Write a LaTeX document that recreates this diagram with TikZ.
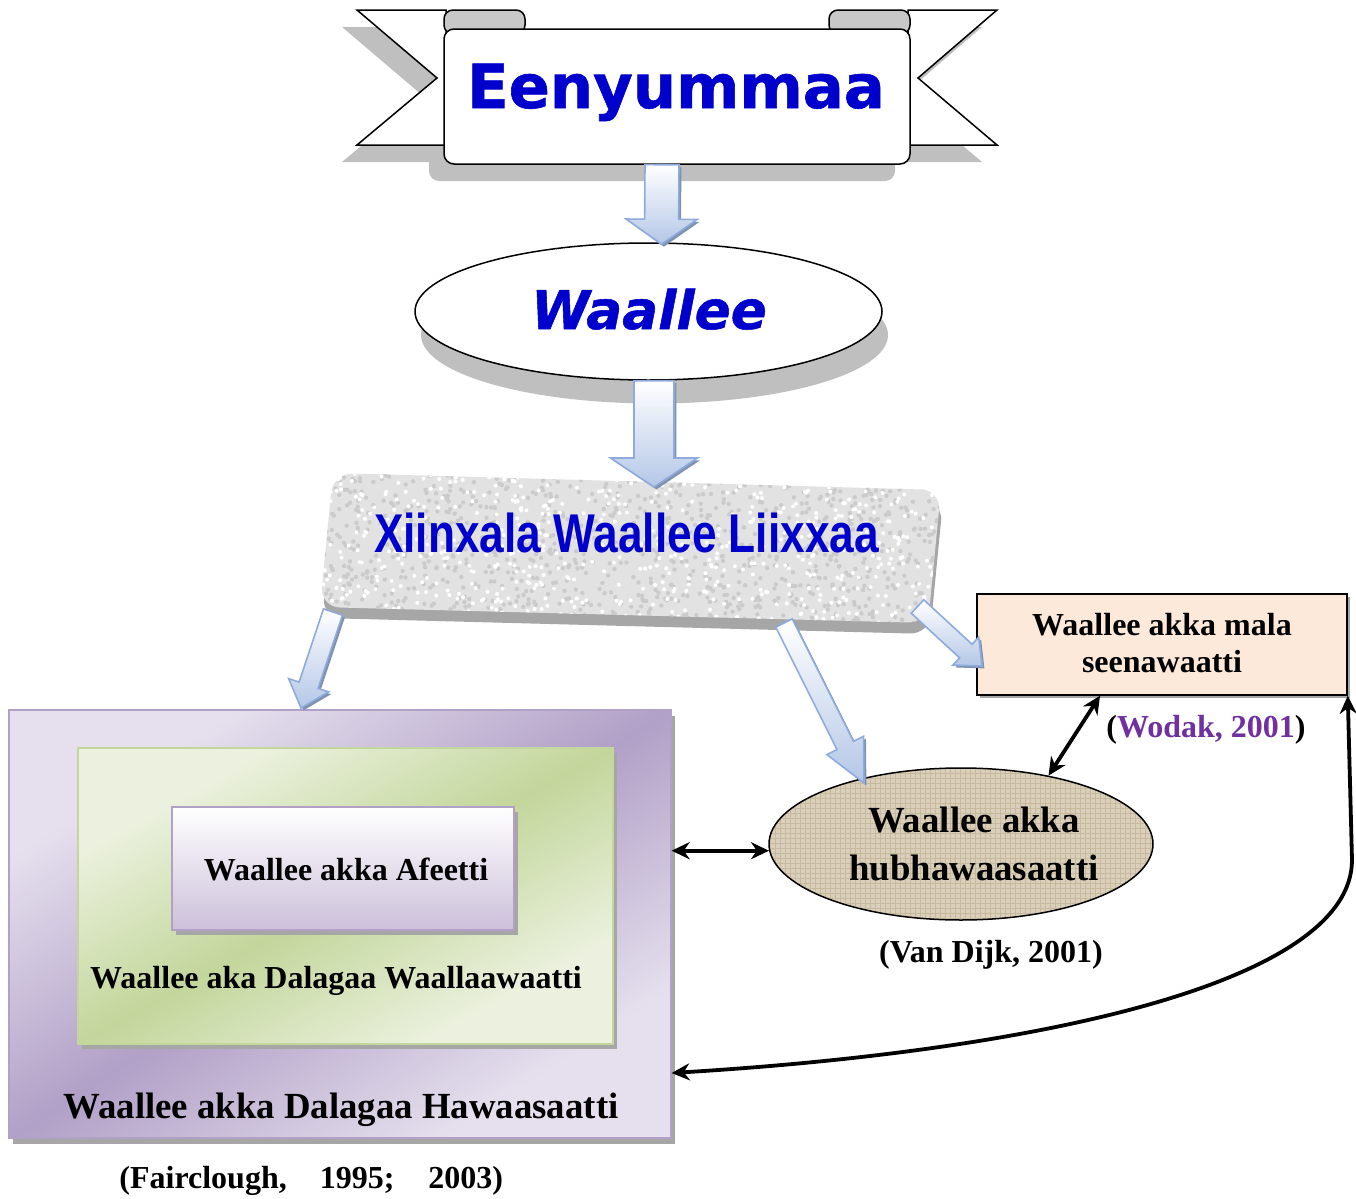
\documentclass[tikz,border=0pt]{standalone}
\usepackage{fontspec}
\setmainfont{Liberation Serif}
\newfontfamily\tnr{Liberation Serif}
\newfontfamily\dejab[FakeBold=1]{DejaVu Sans}
\newfontfamily\narrowf[FakeStretch=0.81]{Liberation Sans}
\usetikzlibrary{calc,shapes.geometric,arrows.meta}
\definecolor{tblue}{RGB}{0,0,204}
\definecolor{arrblue}{HTML}{B4C7E7}
\definecolor{arrborder}{HTML}{8FAADC}
\definecolor{arrshadow}{HTML}{7F93B0}
\definecolor{shadowgray}{HTML}{BFBFBF}
\definecolor{curlgray}{HTML}{C8C8C8}
\definecolor{texbase}{HTML}{E2E2E2}
\definecolor{texdark}{HTML}{CBCBCB}
\definecolor{texshadow}{HTML}{A6A6A6}
\definecolor{pinkbox}{HTML}{FDE9D9}
\definecolor{purpL}{HTML}{E6E0EE}
\definecolor{purpD}{HTML}{B1A0C7}
\definecolor{purpB}{HTML}{B2A1C7}
\definecolor{greenL}{HTML}{EBF1DE}
\definecolor{greenD}{HTML}{C3D69B}
\definecolor{innerB}{HTML}{CCC0DA}
\definecolor{burlap}{HTML}{DACFBA}
\definecolor{burlapline}{HTML}{C7B99E}
\definecolor{wodak}{HTML}{7030A0}
\definecolor{boxshadow}{HTML}{A6A6A6}
\pgfdeclarehorizontalshading{purplerefl}{100bp}{color(0bp)=(purpL); color(27bp)=(purpL); color(50bp)=(purpD); color(73bp)=(purpL); color(100bp)=(purpL)}
\pgfdeclarehorizontalshading{greenrefl}{100bp}{color(0bp)=(greenL); color(28bp)=(greenL); color(50bp)=(greenD); color(72bp)=(greenL); color(100bp)=(greenL)}
\tikzset{
  bline/.style={draw=black, line width=0.75pt},
  blockarr/.style={draw=arrborder, line width=0.8pt, top color=white, bottom color=arrblue},
  conn/.style={line width=1.9pt, {Stealth[length=9pt,width=8.5pt]}-{Stealth[length=9pt,width=8.5pt]}},
  txt/.style={font=\tnr\bfseries\fontsize{16}{19}\selectfont, inner sep=0pt},
  bigtxt/.style={font=\tnr\bfseries\fontsize{18.4}{22}\selectfont, inner sep=0pt},
}
\newcommand\myblockarrow[5]{%
  \coordinate (ba-h) at ($(#2)!#5!(#1)$);
  \coordinate (ba-1) at ($(#1)!#3!90:(#2)$);
  \coordinate (ba-2) at ($(ba-h)!#3!90:(#2)$);
  \coordinate (ba-3) at ($(ba-h)!#4!90:(#2)$);
  \coordinate (ba-4) at ($(ba-h)!#4!-90:(#2)$);
  \coordinate (ba-5) at ($(ba-h)!#3!-90:(#2)$);
  \coordinate (ba-6) at ($(#1)!#3!-90:(#2)$);
  \begin{scope}[transform canvas={shift={(1.2pt,-1.2pt)}}]
    \fill[arrshadow] (ba-1) -- (ba-2) -- (ba-3) -- (#2) -- (ba-4) -- (ba-5) -- (ba-6) -- cycle;
  \end{scope}
  \path[blockarr] (ba-1) -- (ba-2) -- (ba-3) -- (#2) -- (ba-4) -- (ba-5) -- (ba-6) -- cycle;
}
\begin{document}
\begin{tikzpicture}[x=0.5pt,y=-0.5pt]
\useasboundingbox (0,0) rectangle (1356,1199);
\fill[white] (0,0) rectangle (1356,1199);

% ---------- banner ----------
\begin{scope}[shift={(-15,17)}]
  \fill[shadowgray] (357,10) -- (446,10) -- (446,145) -- (357,145) -- (437,78) -- cycle;
  \fill[shadowgray] (997,10) -- (908,10) -- (908,145) -- (997,145) -- (918,78) -- cycle;
  \fill[shadowgray, rounded corners=5pt] (444,29) rectangle (910,164);
\end{scope}
\draw[bline, fill=white] (357,10) -- (446,10) -- (446,145) -- (357,145) -- (437,78) -- cycle;
\draw[bline, fill=white] (997,10) -- (908,10) -- (908,145) -- (997,145) -- (918,78) -- cycle;
\draw[bline, fill=curlgray, rounded corners=4.5pt] (444,10) rectangle (525,34);
\draw[bline, fill=curlgray, rounded corners=4.5pt] (829,10) rectangle (910,34);
\node[bline, fill=white, rounded corners=5pt, minimum width=233pt, minimum height=67.5pt, inner sep=0pt] (banner) at (677,96.5) {};
\node[anchor=base, inner sep=0pt, text=tblue, font=\dejab\bfseries\fontsize{30.4}{36}\selectfont] (eeny) at (676,108) {Eenyummaa};

% ---------- Waallee ellipse ----------
\fill[shadowgray] (654.5,335) ellipse [x radius=116.75pt, y radius=34.25pt];
\node[bline, fill=white, ellipse, minimum width=233.5pt, minimum height=68.5pt, inner sep=0pt] (wall) at (648.5,311.5) {};
\node[anchor=base, inner sep=0pt, text=tblue, font=\dejab\bfseries\itshape\fontsize{26.6}{30}\selectfont] (wallt) at (649,329) {Waallee};

\coordinate (a1s) at ($(banner.south)+(-15,0)$);
\coordinate (a1t) at ($(wall.north)+(13,2)$);
\myblockarrow{a1s}{a1t}{8.5pt}{17.75pt}{12.5pt}

% ---------- textured box ----------
\begin{scope}[shift={(2,11)}]
  \fill[texshadow, rounded corners=10pt] (333,473) -- (941,490) -- (928,623) -- (320,607) -- cycle;
\end{scope}
\begin{scope}
  \path[clip, rounded corners=10pt] (333,473) -- (941,490) -- (928,623) -- (320,607) -- cycle;
  \fill[texbase] (300,460) rectangle (960,640);
  \pgfmathsetseed{12}
  \foreach \i in {1,...,1100} {\fill[texdark] ({320+620*rnd},{470+160*rnd}) circle (2.2);}
  \foreach \i in {1,...,700} {\fill[white] ({320+620*rnd},{470+160*rnd}) circle (2);}
\end{scope}
\node[anchor=base, inner sep=0pt, text=tblue, font=\narrowf\bfseries\fontsize{27.3}{30}\selectfont] (xtitle) at (626.5,552) {Xiinxala Waallee Liixxaa};

\coordinate (a2s) at ($(wall.south)+(5.5,0)$);
\coordinate (a2t) at (654,487);
\myblockarrow{a2s}{a2t}{10pt}{21.75pt}{14.5pt}

% ---------- pink box ----------
\fill[boxshadow] (980,597) rectangle (1350,698);
\node[draw, line width=0.75pt, fill=pinkbox, minimum width=185pt, minimum height=50.5pt, inner sep=0pt] (pink) at (1162,644.5) {};
\node[txt, anchor=base] (pinkt1) at (1162,635) {Waallee akka mala};
\node[txt, anchor=base] (pinkt2) at (1162,672) {seenawaatti};

% ---------- hub ellipse ----------
\fill[burlap] (961,844) ellipse [x radius=96pt, y radius=38pt];
\begin{scope}
  \clip (961,844) ellipse [x radius=96pt, y radius=38pt];
  \foreach \k in {770,775,...,1155} {\draw[burlapline, line width=0.35pt] (\k,766) -- (\k,922);}
  \foreach \k in {768,773,...,920} {\draw[burlapline, line width=0.35pt] (768,\k) -- (1155,\k);}
\end{scope}
\node[bline, ellipse, minimum width=192pt, minimum height=76pt, inner sep=0pt] (hub) at (961,844) {};
\node[bigtxt, anchor=base] (hubt1) at (974,832) {Waallee akka};
\node[bigtxt, anchor=base] (hubt2) at (974,880) {hubhawaasaatti};

% ---------- nested boxes ----------
\fill[boxshadow] (13,716) rectangle (675,1144);
\node[shade, shading=purplerefl, shading angle=-57, draw=purpB, line width=0.6pt, minimum width=331pt, minimum height=214pt, inner sep=0pt] (outer) at (340,924) {};
\fill[boxshadow] (82,753) rectangle (617,1049);
\node[shade, shading=greenrefl, shading angle=-61, draw=greenD, line width=0.6pt, minimum width=267.5pt, minimum height=148pt, inner sep=0pt] (green) at (345.5,896) {};
\fill[boxshadow] (176,812) rectangle (518,935);
\node[draw=purpB, line width=1pt, top color=white, bottom color=innerB, minimum width=171pt, minimum height=61.5pt, inner sep=0pt] (inner) at (343,868.5) {};
\node[txt, anchor=base] (innert) at (346,880) {Waallee akka Afeetti};
\node[txt, anchor=base] (greent) at (336,988) {Waallee aka Dalagaa Waallaawaatti};
\node[bigtxt, anchor=base] (outert) at (341,1118) {Waallee akka Dalagaa Hawaasaatti};

% ---------- arrows from textured box ----------
\coordinate (a3s) at (333,612);
\coordinate (a3t) at (301,708);
\myblockarrow{a3s}{a3t}{5pt}{10.5pt}{12pt}
\coordinate (a4s) at (784,623);
\coordinate (a4t) at (864,783);
\myblockarrow{a4s}{a4t}{4.6pt}{10.25pt}{21pt}
\coordinate (a5s) at (917.5,606.5);
\coordinate (a5t) at (982,666);
\myblockarrow{a5s}{a5t}{4.6pt}{9.5pt}{11pt}

% ---------- connectors ----------
\draw[conn] (hub.182) -- (outer.east |- hub.182);
\draw[conn] (hub.38) -- ([xshift=-31pt]pink.south);
\coordinate (cend) at (outer.east |- 0,1073);
\draw[conn] (cend) .. controls (1050,1050) and (1352,980) .. (1352,860) -- (pink.south east);

% ---------- citations ----------
\node[txt, anchor=base] (wodakt) at (1206,737) {(\textcolor{wodak}{Wodak, 2001})};
\node[txt, anchor=base] (dijkt) at (991,962) {(Van Dijk, 2001)};
\node[txt, anchor=base west] (fairt) at (119,1188) {(Fairclough,\hspace{16.5pt}1995;\hspace{17pt}2003)};
\end{tikzpicture}
\end{document}
